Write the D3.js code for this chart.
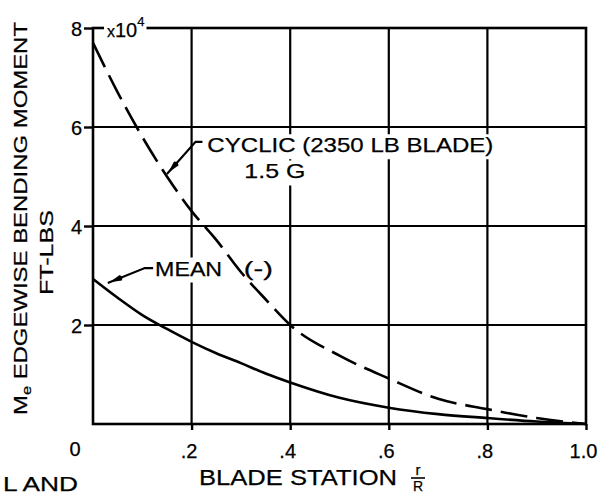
<!DOCTYPE html>
<html>
<head>
<meta charset="utf-8">
<script src="https://cdn.jsdelivr.net/npm/d3@7"></script>
<style>
  html, body { margin: 0; padding: 0; background: #fff; }
  svg { display: block; }
  text { font-family: "Liberation Sans", Arial, sans-serif; fill: #000; stroke: #000; stroke-width: 0.25px; }
</style>
</head>
<body>
<svg width="604" height="495"></svg>
<script>
// blade station r/R and edgewise bending moment (x 10^4 ft-lbs)
const stations = [0, 0.05, 0.1, 0.15, 0.2, 0.25, 0.3, 0.35, 0.4, 0.5, 0.6, 0.7, 0.8, 0.9, 1.0];
const cyclic   = [7.7, 6.7, 5.8, 5.0, 4.3, 3.72, 3.07, 2.52, 2.0, 1.38, 0.92, 0.51, 0.3, 0.12, 0.0];
const mean     = [2.93, 2.55, 2.2, 1.92, 1.66, 1.43, 1.23, 1.02, 0.84, 0.53, 0.33, 0.2, 0.12, 0.05, 0.0];

const xTicks      = [0.2, 0.4, 0.6, 0.8, 1.0];
const xTickLabels = ['.2', '.4', '.6', '.8', '1.0'];
const yTicks      = [2, 4, 6, 8];
const yTickLabels = ['2', '4', '6', '8'];

// callouts: leader path in data units
const cyclicLeader = [[0.15, 5.05], [0.208, 5.7], [0.222, 5.7]];
const meanLeader   = [[0.03, 2.85], [0.105, 3.15], [0.122, 3.15]];

function draw () {
  let svg = d3.select('svg');

  let x = d3.scaleLinear().domain([0, 1]).range([93, 586]),
      y = d3.scaleLinear().domain([0, 8]).range([424, 28]);

  // Grid
  let grid = svg.append('g').attr('stroke', '#000').attr('stroke-width', 2.2);
  grid.selectAll('.vx').data(xTicks.slice(0, -1)).enter().append('line')
    .attr('x1', d => x(d)).attr('x2', d => x(d))
    .attr('y1', y(8)).attr('y2', y(0));
  grid.selectAll('.hy').data(yTicks.slice(0, -1)).enter().append('line')
    .attr('x1', x(0)).attr('x2', x(1))
    .attr('y1', d => y(d)).attr('y2', d => y(d));

  // frame
  svg.append('rect')
    .attr('x', x(0)).attr('y', y(8))
    .attr('width', x(1) - x(0)).attr('height', y(0) - y(8))
    .attr('fill', 'none').attr('stroke', '#000').attr('stroke-width', 2.6);

  // Axes
  let xAxis = d3.axisBottom(x).tickValues(xTicks).tickSize(6).tickPadding(14)
    .tickFormat((d, i) => xTickLabels[i]);
  let yAxis = d3.axisLeft(y).tickValues(yTicks).tickSize(9).tickPadding(2)
    .tickFormat((d, i) => yTickLabels[i]);

  let gx = svg.append('g').attr('transform', `translate(0,${y(0)})`).call(xAxis);
  let gy = svg.append('g').attr('transform', `translate(${x(0)},0)`).call(yAxis);
  [gx, gy].forEach(g => {
    g.select('.domain').remove();
    g.selectAll('line').attr('stroke', '#000').attr('stroke-width', 2.4);
    g.selectAll('text').attr('font-size', 20).attr('font-family', '"Liberation Sans", Arial, sans-serif');
  });
  gx.selectAll('text').attr('dx', -3);
  gy.selectAll('text').attr('dy', '0.36em');

  svg.append('text')
    .attr('x', 75).attr('y', 456)
    .attr('text-anchor', 'middle').attr('font-size', 20)
    .text('0');

  // label backgrounds (break the grid like the lettering does)
  let bg = svg.append('g');
  let labels = svg.append('g');

  function label (txt, lx, ly, size, len) {
    let t = labels.append('text')
      .attr('x', lx).attr('y', ly)
      .attr('font-size', size)
      .text(txt);
    if (len) t.attr('textLength', len).attr('lengthAdjust', 'spacingAndGlyphs');
    let b = t.node().getBBox();
    bg.append('rect')
      .attr('x', b.x - 4).attr('y', b.y + 1)
      .attr('width', b.width + 8).attr('height', b.height + 2)
      .attr('fill', '#fff');
    return t;
  }

  // x10^4
  let mult = labels.append('text').attr('x', 107).attr('y', 37).attr('font-size', 20);
  mult.append('tspan').attr('font-size', 16).text('x');
  mult.append('tspan').text('10');
  mult.append('tspan').attr('font-size', 13).attr('dy', -11).text('4');
  let mb = mult.node().getBBox();
  bg.append('rect').attr('x', mb.x - 3).attr('y', mb.y).attr('width', mb.width + 5).attr('height', mb.height)
    .attr('fill', '#fff');

  label('CYCLIC (2350 LB  BLADE)', x(0.232), y(5.49), 21, 286);
  label('1.5 G', x(0.307), y(4.96), 21, 61);
  label('MEAN', x(0.126), y(3.0), 21, 67);
  label('(-)', x(0.306), y(3.0), 21, 29);

  // Curves
  let line = d3.line()
    .x((d, i) => x(stations[i]))
    .y(d => y(d))
    .curve(d3.curveMonotoneX);

  let curves = svg.append('g').attr('fill', 'none').attr('stroke', '#000').attr('stroke-width', 2.6);
  curves.append('path').attr('d', line(mean));
  curves.append('path').attr('d', line(cyclic)).attr('stroke-dasharray', '27,9');

  // leaders
  let leader = d3.line().x(d => x(d[0])).y(d => y(d[1]));
  [cyclicLeader, meanLeader].forEach(pts => {
    curves.append('path').attr('d', leader(pts)).attr('stroke-width', 2.2);
    let [p0, p1] = pts;
    let ax = x(p0[0]), ay = y(p0[1]);
    let ang = Math.atan2(y(p1[1]) - ay, x(p1[0]) - ax) * 180 / Math.PI;
    svg.append('path')
      .attr('d', 'M2,0 L14,-3 L16,0 L14,3 Z')
      .attr('transform', `translate(${ax},${ay}) rotate(${ang})`)
      .attr('fill', '#000');
  });

  // Axis titles
  let yt = svg.append('text')
    .attr('transform', 'translate(27,415) rotate(-90)')
    .attr('font-size', 19)
    .attr('textLength', 393).attr('lengthAdjust', 'spacingAndGlyphs');
  yt.append('tspan').text('M');
  yt.append('tspan').attr('font-size', 13).attr('dy', 4).text('e');
  yt.append('tspan').attr('dy', -4).text('  EDGEWISE  BENDING  MOMENT');

  svg.append('text')
    .attr('transform', 'translate(53,295) rotate(-90)')
    .attr('font-size', 19)
    .attr('textLength', 85).attr('lengthAdjust', 'spacingAndGlyphs')
    .text('FT-LBS');

  svg.append('text')
    .attr('x', 199).attr('y', 485)
    .attr('font-size', 22)
    .attr('textLength', 198).attr('lengthAdjust', 'spacingAndGlyphs')
    .text('BLADE  STATION');

  // r/R
  svg.append('text').attr('x', 418).attr('y', 475).attr('text-anchor', 'middle')
    .attr('font-size', 15).text('r');
  svg.append('line').attr('x1', 411).attr('x2', 425).attr('y1', 478).attr('y2', 478)
    .attr('stroke', '#000').attr('stroke-width', 1.6);
  svg.append('text').attr('x', 418).attr('y', 491).attr('text-anchor', 'middle')
    .attr('font-size', 14).text('R');

  svg.append('text')
    .attr('x', 3).attr('y', 491)
    .attr('font-size', 20)
    .attr('textLength', 75).attr('lengthAdjust', 'spacingAndGlyphs')
    .text('L  AND');
}

document.addEventListener('DOMContentLoaded', draw);
</script>
</body>
</html>
